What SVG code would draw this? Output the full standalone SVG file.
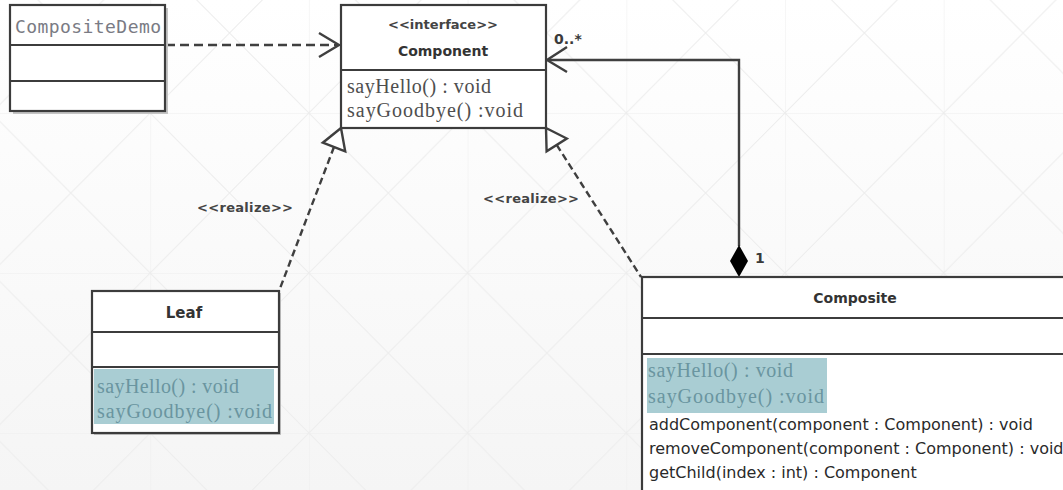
<svg xmlns="http://www.w3.org/2000/svg" width="1063" height="490" viewBox="0 0 1063 490">
  <defs>
    <linearGradient id="bg" x1="0" y1="0" x2="0" y2="1">
      <stop offset="0" stop-color="#ffffff"/>
      <stop offset="1" stop-color="#f5f5f5"/>
    </linearGradient>
    <pattern id="grid" patternUnits="userSpaceOnUse" x="150.2" y="113" width="158.7" height="160">
      <path d="M0 0V160M0 0H158.7M0 0L158.7 160M158.7 0L0 160" fill="none" stroke="#ededed" stroke-width="1"/>
    </pattern>
    <style>
      .box { fill: #ffffff; stroke: #3c3c3c; stroke-width: 2.2; }
      .shadow { fill: #c4c4c4; }
      .sep { stroke: #3c3c3c; stroke-width: 2.2; }
      .hl { fill: #a9cdd3; }
      .title { font-family: "DejaVu Sans", sans-serif; font-size: 14px; font-weight: bold; fill: #333333; text-anchor: middle; }
      .stereo { font-family: "DejaVu Sans", sans-serif; font-size: 13px; font-weight: bold; fill: #444444; }
      .op { font-family: "Liberation Serif", serif; font-size: 20px; fill: #4e4e4e; }
      .op-hl { font-family: "Liberation Serif", serif; font-size: 20px; fill: #6a95a0; }
      .op-sans { font-family: "DejaVu Sans", sans-serif; font-size: 16px; fill: #2a2a2a; }
      .mono { font-family: "DejaVu Sans Mono", monospace; font-size: 18px; fill: #7a7b84; }
      .edge { fill: none; stroke: #3f3f3f; stroke-width: 2.4; }
      .dash { stroke-dasharray: 9 5; }
      .dash-s { stroke-dasharray: 7 4; }
      .label { font-family: "DejaVu Sans", sans-serif; font-size: 14px; font-weight: bold; fill: #3a3a3a; }
    </style>
  </defs>

  <!-- canvas background with faint triangular grid -->
  <rect x="0" y="0" width="1063" height="490" fill="url(#bg)"/>
  <rect x="0" y="0" width="1063" height="490" fill="url(#grid)"/>

  <!-- connectors -->
  <g id="connectors">
    <!-- CompositeDemo uses Component -->
    <line class="edge dash" x1="166" y1="45" x2="338" y2="45"/>
    <polyline class="edge" points="319,33 339,45 319,57"/>

    <!-- Leaf realizes Component -->
    <line class="edge dash-s" x1="334" y1="147" x2="279" y2="291"/>
    <polygon class="edge" points="341,128 345.2,151.3 322.8,142.7" style="fill:#ffffff"/>
    <text class="stereo" x="197" y="212" textLength="96">&lt;&lt;realize&gt;&gt;</text>

    <!-- Composite realizes Component -->
    <line class="edge dash-s" x1="556.7" y1="144.9" x2="641" y2="277"/>
    <polygon class="edge" points="546,128 566.8,138.5 546.6,151.3" style="fill:#ffffff"/>
    <text class="stereo" x="483" y="203" textLength="96">&lt;&lt;realize&gt;&gt;</text>

    <!-- Composite aggregates Component children -->
    <polyline class="edge" points="739,246 739,60 548,60"/>
    <polyline class="edge" points="567,47 547,60 567,72"/>
    <polygon points="739,245 748,261 739,277 730,261" fill="#000000"/>
    <text class="label" x="554" y="44">0..*</text>
    <text class="label" x="755" y="263">1</text>
  </g>

  <!-- CompositeDemo -->
  <g id="CompositeDemo">
    <rect class="shadow" x="13" y="8" width="155" height="106"/>
    <rect class="box" x="10" y="5" width="155" height="106"/>
    <line class="sep" x1="10" y1="45" x2="165" y2="45"/>
    <line class="sep" x1="10" y1="81" x2="165" y2="81"/>
    <text class="mono" x="15" y="33" textLength="146">CompositeDemo</text>
  </g>

  <!-- Component interface -->
  <g id="Component">
    <rect class="box" x="341" y="5" width="205" height="123"/>
    <line class="sep" x1="341" y1="70" x2="546" y2="70"/>
    <text class="stereo" x="443" y="29" text-anchor="middle" textLength="110">&lt;&lt;interface&gt;&gt;</text>
    <text class="title" x="443" y="56">Component</text>
    <text class="op" x="347" y="93" textLength="144">sayHello() : void</text>
    <text class="op" x="347" y="117" textLength="176">sayGoodbye() :void</text>
  </g>

  <!-- Leaf -->
  <g id="Leaf">
    <rect class="shadow" x="94" y="293" width="187" height="142"/>
    <rect class="box" x="92" y="291" width="187" height="142"/>
    <line class="sep" x1="92" y1="332" x2="279" y2="332"/>
    <line class="sep" x1="92" y1="367" x2="279" y2="367"/>
    <rect class="hl" x="94" y="369" width="180" height="55"/>
    <text class="title" x="184" y="318" style="font-size:15px">Leaf</text>
    <text class="op-hl" x="97" y="393" textLength="142">sayHello() : void</text>
    <text class="op-hl" x="97" y="418" textLength="175">sayGoodbye() :void</text>
  </g>

  <!-- Composite -->
  <g id="Composite">
    <rect class="box" x="642" y="277" width="440" height="230"/>
    <line class="sep" x1="642" y1="318" x2="1063" y2="318"/>
    <line class="sep" x1="642" y1="354" x2="1063" y2="354"/>
    <rect class="hl" x="647" y="358" width="180" height="55"/>
    <text class="title" x="855" y="303">Composite</text>
    <text class="op-hl" x="648" y="377" textLength="145">sayHello() : void</text>
    <text class="op-hl" x="648" y="403" textLength="176">sayGoodbye() :void</text>
    <text class="op-sans" x="649" y="430">addComponent(component : Component) : void</text>
    <text class="op-sans" x="649" y="454">removeComponent(component : Component) : void</text>
    <text class="op-sans" x="649" y="478">getChild(index : int) : Component</text>
  </g>
</svg>
